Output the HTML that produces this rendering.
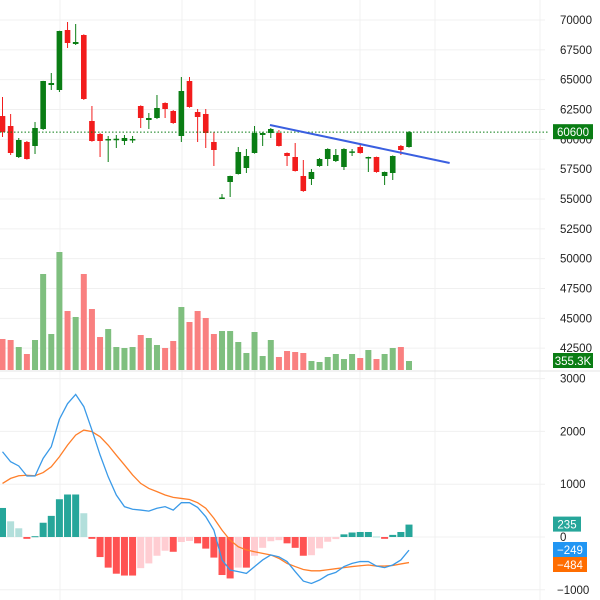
<!DOCTYPE html>
<html><head><meta charset="utf-8"><style>
html,body{margin:0;padding:0;background:#fff;}
svg{display:block;font-family:"Liberation Sans",sans-serif;}
</style></head><body>
<svg id="chart" width="600" height="600" viewBox="0 0 600 600"></svg>
<script>
const opens=[61953,61117,58519,59777,59441,60866,64553,64134,69162,67989,68743,61536,60447,59950,59970,59860,59970,62793,61620,61787,63045,62374,60279,64888,62290,62123,59777,55042,56424,57095,57598,58855,60363,60530,60530,58855,58519,56927,56676,57765,58352,58184,57681,58900,59357,58436,58519,56927,57179,59441,59357];
const closes=[60612,58855,59944,58352,60950,64888,64720,69078,68073,68156,63380,59860,59860,60030,60050,60112,60030,61787,61787,62626,62542,61369,64050,62710,61871,60530,59106,55125,56927,58938,58603,60530,60530,60866,59441,58603,57346,55670,57263,58352,59190,58687,59190,58990,58855,58519,57263,57263,58603,59106,60600];
const highs=[63546,62123,60112,59860,61452,64900,65559,69100,69832,69665,68800,62793,60530,60279,60363,60363,60279,62850,62207,63715,63100,62450,65223,65223,62542,62542,60614,55419,56950,59357,59190,61117,60600,60950,60782,58900,59693,58268,57514,58436,59250,59190,59250,59190,59609,58550,58550,57300,58650,59525,60700];
const lows=[60193,58687,58436,58300,58771,60782,64134,63966,67654,67905,63300,59800,58519,58100,59274,59525,59700,60950,60866,61700,61787,61300,59777,62650,59777,59274,57765,55000,55167,57050,57179,58800,59441,60112,59400,57765,57300,55600,56173,57700,57765,58100,57430,58603,58800,57263,57200,56173,56592,58687,59300];
const volumes=[1225,1185,908,632,1185,3792,1422,4661,2330,2094,3792,2409,1303,1619,908,869,908,1382,1264,987,869,1146,2488,1896,2330,2054,1422,1540,1540,1106,672,1501,553,1185,514,750,711,672,355,316,514,632,434,632,474,790,434,632,869,908,355.3];
const macdVals=[1615,1425,1345,1155,1155,1490,1710,2230,2525,2700,2470,2025,1555,1140,795,575,525,510,490,545,575,510,650,650,560,385,130,-435,-625,-655,-690,-560,-435,-340,-375,-465,-655,-835,-880,-815,-720,-670,-560,-500,-465,-465,-550,-580,-530,-435,-249];
const signalVals=[1015,1110,1160,1170,1160,1220,1330,1520,1740,1930,2025,1995,1900,1740,1550,1365,1175,1015,920,860,795,750,730,710,650,545,355,130,-60,-185,-245,-280,-310,-340,-405,-500,-560,-615,-640,-640,-620,-600,-580,-560,-545,-530,-550,-550,-540,-510,-484];
const histVals=[550,297,165,-35,15,270,400,715,805,805,450,-35,-380,-580,-695,-730,-730,-590,-500,-355,-260,-280,-95,-75,-120,-220,-390,-720,-785,-580,-580,-355,-205,-80,-60,-120,-205,-355,-345,-215,-90,-40,50,85,95,95,10,-35,40,95,235];
const priceTicks=[70000,67500,65000,62500,60000,57500,55000,52500,50000,47500,45000,42500];
const macdTicks=[3000,2000,1000,0,-1000];
const trendStart=[32.9,61201], trendEnd=[55,58016];
const lastPrice=60600, lastVolLabel="355.3K";

const svg=document.getElementById('chart');
const NS='http://www.w3.org/2000/svg';
function mk(tag,attrs,parent){const e=document.createElementNS(NS,tag);for(const k in attrs)e.setAttribute(k,attrs[k]);(parent||svg).appendChild(e);return e;}
const xS=i=>2.5+8.13*i;
const yP=p=>20+(70000-p)*0.011933;
const yV=v=>370-v/39.5;
const yM=v=>537-v*0.0528;
const GREEN='#0a7d14',RED='#f21c1c';

// grid
const grid=mk('g',{});


[60,182,255,360,435,540].forEach(x=>mk('line',{x1:x,y1:0,x2:x,y2:600,stroke:'#f0f0f0','stroke-width':1},grid));
priceTicks.forEach(t=>mk('line',{x1:0,y1:yP(t),x2:545,y2:yP(t),stroke:'#f0f0f0','stroke-width':1},grid));
macdTicks.forEach(t=>mk('line',{x1:0,y1:yM(t),x2:545,y2:yM(t),stroke:'#f0f0f0','stroke-width':1},grid));
mk('line',{x1:0,y1:371,x2:600,y2:371,stroke:'#e4e4e4','stroke-width':1},grid);

// volume
const vg=mk('g',{});


volumes.forEach((v,i)=>{const up=closes[i]>=opens[i];const y=yV(v);
 const r=mk('rect',{x:xS(i)-3,y:y,width:6,height:370-y,fill:up?'#7fbf7f':'#f98080'},vg);
 });

// candles
const cg=mk('g',{});


opens.forEach((o,i)=>{const c=closes[i];const up=c>=o;const col=up?GREEN:RED;const x=xS(i);
 const g=mk('g',{},cg);
 
 mk('line',{x1:x,y1:yP(highs[i]),x2:x,y2:yP(lows[i]),stroke:col,'stroke-width':1},g);
 const t=Math.min(yP(o),yP(c)),h=Math.max(1.5,Math.abs(yP(o)-yP(c)));
 mk('rect',{x:x-2.8,y:t,width:5.6,height:h,fill:col},g);});

// last price line
const lp=mk('line',{x1:0,y1:yP(lastPrice),x2:548,y2:yP(lastPrice),stroke:GREEN,'stroke-width':1,'stroke-dasharray':'1.5,2'});


// trend line
const tl=mk('line',{x1:xS(trendStart[0]),y1:yP(trendStart[1]),x2:xS(trendEnd[0]),y2:yP(trendEnd[1]),stroke:'#3a5fe0','stroke-width':2});


// macd histogram
const hg=mk('g',{});


histVals.forEach((v,i)=>{const prev=i>0?histVals[i-1]:v;let col;
 if(v>=0)col=(v>=prev)?'#26a69a':'#b2dfdb';else col=(v<=prev)?'#ff5252':'#ffcdd2';
 const y0=yM(0),y1=yM(v);
 const r=mk('rect',{x:xS(i)-3.5,y:Math.min(y0,y1),width:7,height:Math.max(1,Math.abs(y1-y0)),fill:col},hg);
 });

function line(vals,col,name){const p=mk('polyline',{points:vals.map((v,i)=>xS(i)+','+yM(v)).join(' '),fill:'none',stroke:col,'stroke-width':1.3});
 }
line(signalVals,'#ff7f2a','signal-line');
line(macdVals,'#3a9ae8','macd-line');

// axis labels
const ax=mk('g',{'font-size':'11.5',fill:'#222'});


priceTicks.forEach(t=>{const e=mk('text',{x:560,y:yP(t)+4},ax);e.textContent=t;});
macdTicks.forEach(t=>{const e=mk('text',{x:t<0?557:560,y:yM(t)+4},ax);e.textContent=t<0?'\u2212'+Math.abs(t):t;});

function badge(x,y,w,bg,txt,name){const g=mk('g',{});
 mk('rect',{x:x,y:y-8,width:w,height:15,fill:bg},g);
 const t=mk('text',{x:x+w/2,y:y+4,'text-anchor':'middle','font-size':'11.5',fill:'#fff'},g);t.textContent=txt;}
badge(553,yP(lastPrice),40,GREEN,String(lastPrice),'last-price-label');
badge(553,361,40,GREEN,lastVolLabel,'last-volume-label');
badge(553,yM(histVals[50])+0,28,'#26a69a',String(histVals[50]),'histogram-value-label');
badge(553,550,34,'#2196f3','\u2212'+Math.abs(macdVals[50]),'macd-value-label');
badge(553,565,34,'#ff6d00','\u2212'+Math.abs(signalVals[50]),'signal-value-label');
</script>
</body></html>
